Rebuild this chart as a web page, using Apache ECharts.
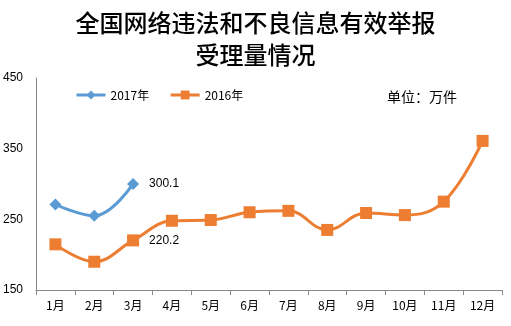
<!DOCTYPE html>
<html><head><meta charset="utf-8">
<script src="https://cdn.jsdelivr.net/npm/echarts@6/dist/echarts.min.js"></script>
<style>html,body{margin:0;padding:0;background:#fff}#c{width:511px;height:326px}</style>
</head><body><div id="c"></div>
<script>
const categories = ['1月','2月','3月','4月','5月','6月','7月','8月','9月','10月','11月','12月'];
const series2017 = [271, 255, 300.1];
const series2016 = [214.6, 190, 220.2, 248, 249, 260, 262, 235, 259, 256, 275, 361];
const yTicks = [150, 250, 350, 450];
const titleLines = ['全国网络违法和不良信息有效举报', '受理量情况'];
const unitText = '单位：万件';

const chart = echarts.init(document.getElementById('c'), null, {renderer: 'canvas'});
const labelIdx = 2;
chart.setOption({
  animation: false,
  title: [{
    text: titleLines.join('\n'), left: 'center', top: 2,
    textStyle: {fontFamily: 'Noto Sans CJK SC', fontSize: 24, fontWeight: 500, color: '#000', lineHeight: 32}
  }, {
    text: unitText, left: 382, top: 85,
    textStyle: {fontFamily: 'Noto Sans CJK SC', fontSize: 14, fontWeight: 'normal', color: '#000'}
  }],
  legend: {
    left: 70, top: 84, itemWidth: 29, itemHeight: 11, itemGap: 20,
    lineStyle: {width: 3},
    textStyle: {fontFamily: 'Noto Sans CJK SC', fontSize: 12, color: '#000'},
    data: ['2017年', '2016年']
  },
  grid: {left: 36, right: 9, top: 78, bottom: 36},
  xAxis: {
    type: 'category', data: categories, boundaryGap: true,
    axisLine: {lineStyle: {color: '#888'}},
    axisTick: {show: true, length: 5, lineStyle: {color: '#888'}},
    axisLabel: {color: '#000', fontSize: 12, fontFamily: 'Noto Sans CJK SC', margin: 9}
  },
  yAxis: {
    type: 'value', min: yTicks[0], max: yTicks[yTicks.length - 1], interval: 100,
    splitLine: {show: false},
    axisLine: {show: true, lineStyle: {color: '#888'}},
    axisTick: {show: false},
    axisLabel: {color: '#000', fontSize: 12, fontFamily: 'Liberation Sans', align: 'left', margin: 33}
  },
  series: [{
    name: '2017年', type: 'line', smooth: 0.4, data: series2017,
    symbol: 'diamond', symbolSize: 12,
    lineStyle: {color: '#5B9BD5', width: 3},
    itemStyle: {color: '#5B9BD5'},
    label: {show: true, position: 'right', distance: 10, color: '#000', fontSize: 12, fontFamily: 'Liberation Sans',
      formatter: p => p.dataIndex === labelIdx ? p.value.toFixed(1) : ''}
  }, {
    name: '2016年', type: 'line', smooth: 0.4, data: series2016,
    symbol: 'rect', symbolSize: 12,
    lineStyle: {color: '#ED7D31', width: 3},
    itemStyle: {color: '#ED7D31'},
    label: {show: true, position: 'right', distance: 10, color: '#000', fontSize: 12, fontFamily: 'Liberation Sans',
      formatter: p => p.dataIndex === labelIdx ? p.value.toFixed(1) : ''}
  }]
});
</script></body></html>
